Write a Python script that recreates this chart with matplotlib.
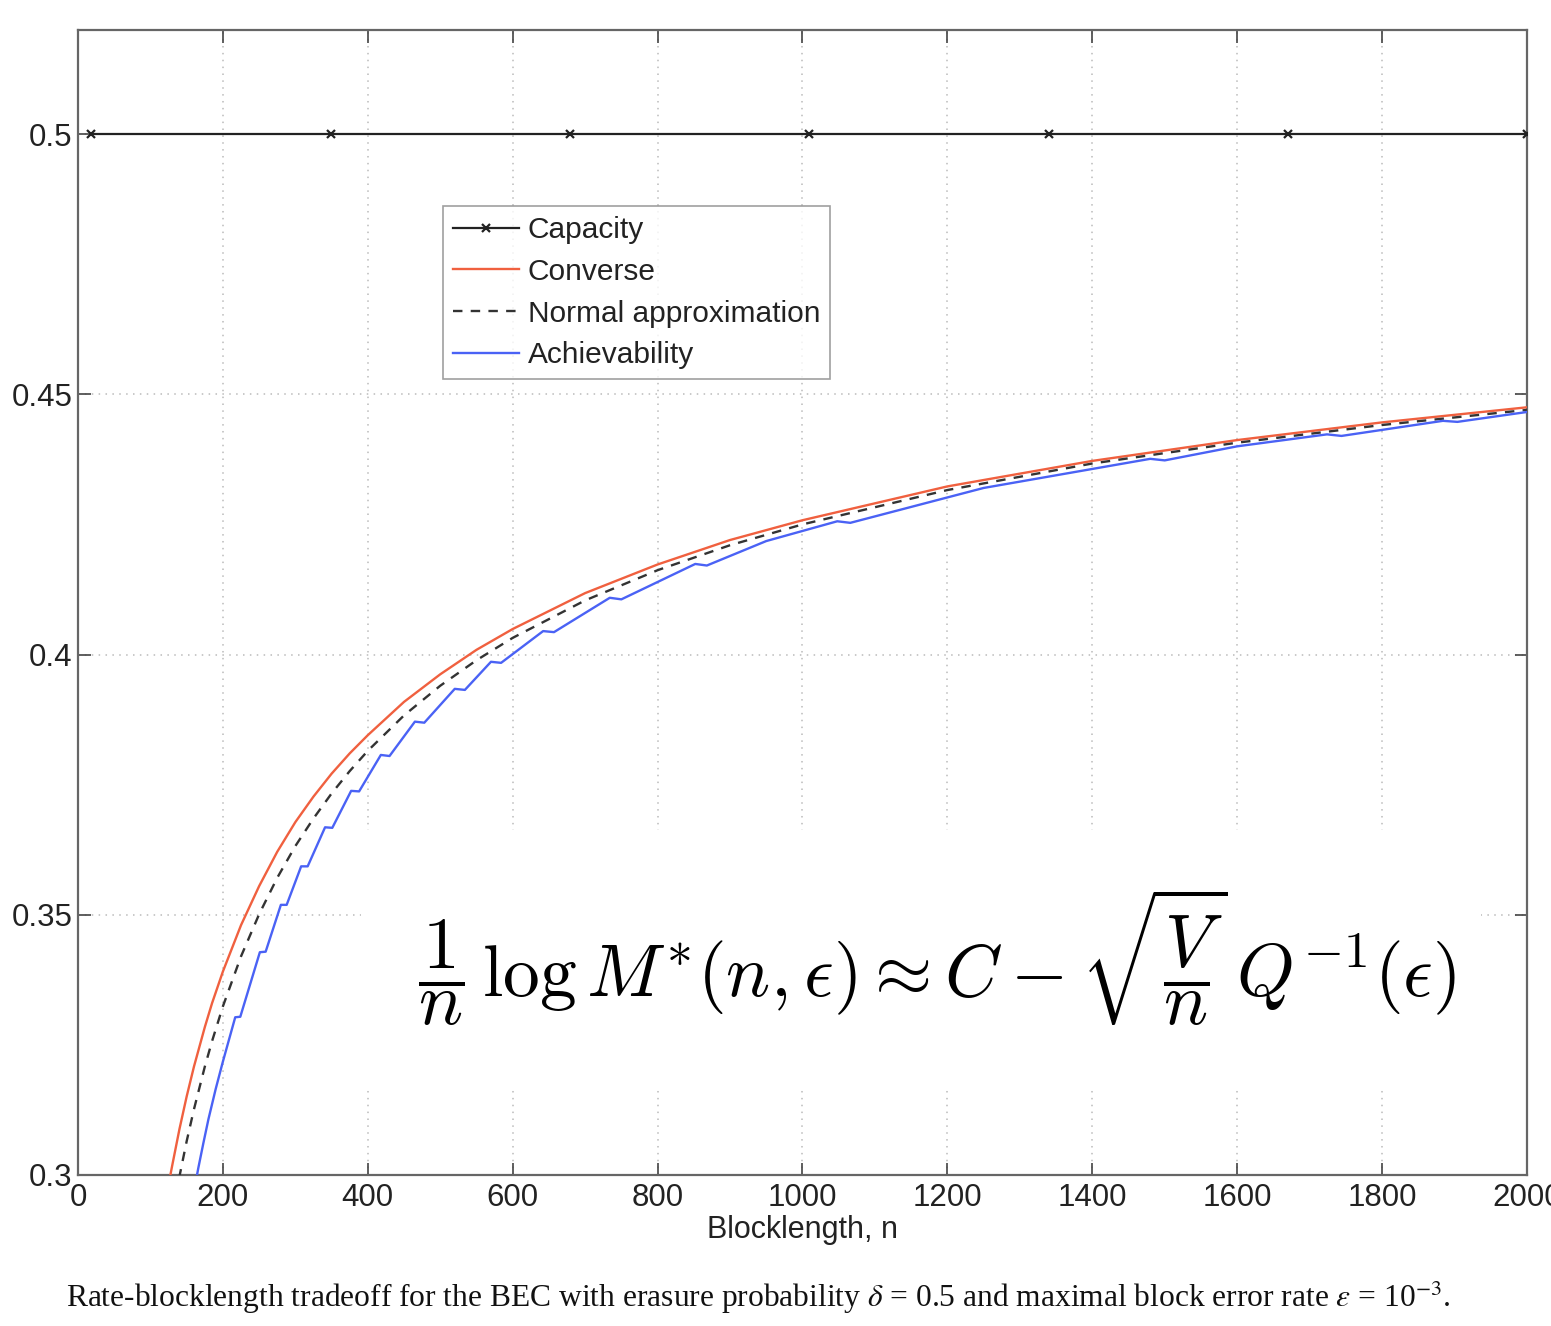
import numpy as np
import matplotlib.pyplot as plt
from matplotlib.patches import Rectangle

# ---- data ----
cap_n = [18, 349, 679, 1009, 1340, 1670, 2000]
cap_rate = [0.5, 0.5, 0.5, 0.5, 0.5, 0.5, 0.5]

conv_n = [120, 130, 140, 150, 160, 175, 185, 200, 225, 250, 275, 300, 325,
          350, 375, 400, 450, 500, 550, 600, 700, 800, 900, 1000, 1200, 1400,
          1600, 1800, 2000]
conv_rate = [0.2946, 0.3018, 0.3088, 0.3151, 0.3208, 0.3284, 0.3330, 0.3391,
             0.3480, 0.3555, 0.3621, 0.3678, 0.3727, 0.3771, 0.3810, 0.3845,
             0.3909, 0.3962, 0.4009, 0.4049, 0.4118, 0.4173, 0.4220, 0.4258,
             0.4323, 0.4372, 0.4412, 0.4446, 0.4475]

norm_n = [135, 140, 150, 160, 175, 185, 200, 225, 250, 275, 300, 325, 350,
          375, 400, 450, 500, 550, 600, 700, 800, 900, 1000, 1200, 1400, 1600,
          1800, 2000]
norm_rate = [0.2960, 0.2997, 0.3065, 0.3126, 0.3208, 0.3257, 0.3324, 0.3420,
             0.3501, 0.3571, 0.3632, 0.3685, 0.3733, 0.3776, 0.3815, 0.3883,
             0.3940, 0.3989, 0.4032, 0.4104, 0.4162, 0.4210, 0.4250, 0.4316,
             0.4367, 0.4407, 0.4441, 0.4470]

# achievability: staircase-like, small flat notches
ach_n = [160, 166, 173, 180, 190, 200,
         217, 224, 251, 259, 280, 288, 308, 317, 341, 351, 377, 388,
         418, 430, 465, 478, 520, 534, 570, 584, 642, 657, 734, 750,
         852, 868, 950, 1048, 1066, 1250, 1480, 1500, 1600, 1724, 1744,
         1884, 1904, 2000]
ach_rate = [0.2968, 0.3013, 0.3061, 0.3107, 0.3165, 0.3218,
            0.3303, 0.3304, 0.3428, 0.3429, 0.3519, 0.3519, 0.3593, 0.3593,
            0.3668, 0.3667, 0.3738, 0.3737, 0.3807, 0.3805, 0.3871, 0.3869,
            0.3934, 0.3932, 0.3986, 0.3984, 0.4045, 0.4043, 0.4109, 0.4106,
            0.4174, 0.4171, 0.4218, 0.4256, 0.4253, 0.4320, 0.4376, 0.4373,
            0.4400, 0.4423, 0.4420, 0.4449, 0.4447, 0.4466]

xticks = [0, 200, 400, 600, 800, 1000, 1200, 1400, 1600, 1800, 2000]
xtick_labels = ["0", "200", "400", "600", "800", "1000", "1200", "1400",
                "1600", "1800", "2000"]
yticks = [0.3, 0.35, 0.4, 0.45, 0.5]
ytick_labels = ["0.3", "0.35", "0.4", "0.45", "0.5"]

plt.rcParams["font.family"] = ["Liberation Sans", "DejaVu Sans"]

fig = plt.figure(figsize=(15.51, 13.26), dpi=100)
ax = fig.add_axes([0.0503, 0.1139, 0.9342, 0.8635])

ax.plot(cap_n, cap_rate, color="#222222", lw=1.6, marker="x", ms=6, mew=1.6,
        label="Capacity", zorder=3)
ax.plot(conv_n, conv_rate, color="#f0603f", lw=1.7, label="Converse", zorder=3)
ax.plot(norm_n, norm_rate, color="#333333", lw=1.7, ls=(0, (4, 3.5)),
        label="Normal approximation", zorder=3)
ax.plot(ach_n, ach_rate, color="#4a62f5", lw=1.7, label="Achievability", zorder=3)

ax.set_xlim(0, 2000)
ax.set_ylim(0.3, 0.52)
ax.set_xticks(xticks)
ax.set_xticklabels(xtick_labels)
ax.set_yticks(yticks)
ax.set_yticklabels(ytick_labels)
ax.tick_params(direction="in", length=9, width=1.2, top=True, right=True,
               labelsize=22.5, colors="#444444", labelcolor="#222222")
ax.tick_params(axis="x", pad=6)
ax.tick_params(axis="y", pad=4)
for s in ax.spines.values():
    s.set_color("#666666")
    s.set_linewidth(1.6)

ax.set_axisbelow(True)
ax.grid(True, ls=(0, (1, 3.5)), color="#bbbbbb", lw=1.1)

ax.set_xlabel("Blocklength, n", fontsize=22, color="#222222", labelpad=1)

leg = ax.legend(loc="upper left", bbox_to_anchor=(0.252, 0.846), borderaxespad=0,
                fontsize=21.5, frameon=True, fancybox=False, handlelength=2.2,
                handletextpad=0.3, labelspacing=0.46, borderpad=0.33)
leg.get_frame().set_edgecolor("#888888")
leg.get_frame().set_linewidth(1.2)
for t in leg.get_texts():
    t.set_color("#222222")

# white patch behind the formula hides the grid there
ax.add_patch(Rectangle((0.195, 0.077), 0.773, 0.224, transform=ax.transAxes,
                       facecolor="white", edgecolor="none", zorder=1))
ax.text(0.593, 0.19,
        r"$\dfrac{1}{n}\,\log M^{*}(n,\epsilon) \approx C - \sqrt{\dfrac{V}{n}}\,Q^{-1}(\epsilon)$",
        transform=ax.transAxes, ha="center", va="center", fontsize=53,
        math_fontfamily="cm", color="black", zorder=4)

fig.text(0.0426, 1 - 1297 / 1326,
         r"Rate-blocklength tradeoff for the BEC with erasure probability $\delta$ = 0.5 "
         r"and maximal block error rate $\epsilon$ = 10$^{-3}$.",
         family="Liberation Serif", fontsize=22.7, va="center", ha="left",
         color="#111111", math_fontfamily="stix")

fig.savefig("out.png", dpi=100)
